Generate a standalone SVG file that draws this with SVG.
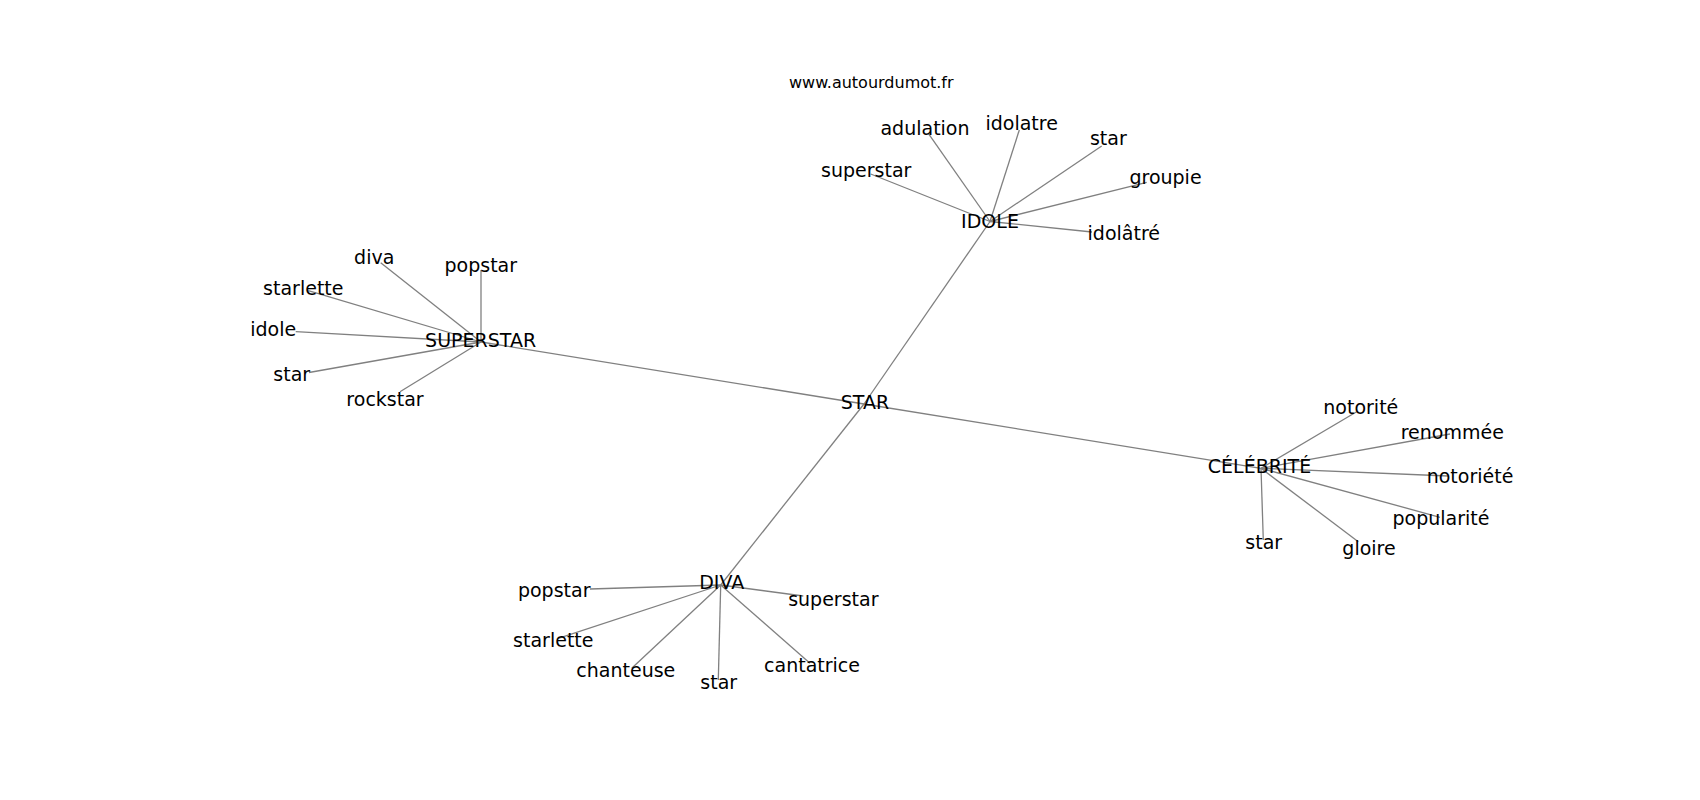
<svg xmlns="http://www.w3.org/2000/svg" width="1700" height="800" viewBox="0 0 1700 800">
<style>
.e{stroke:#808080;stroke-width:1.3;fill:none}
text{font-family:"DejaVu Sans","Liberation Sans",sans-serif;font-size:19px;fill:#000;text-anchor:middle}
.w{font-size:16px}
</style>
<rect width="1700" height="800" fill="#fff"/>
<g id="connectors">
<line class="e" x1="864" y1="404" x2="481" y2="342"/>
<line class="e" x1="864" y1="404" x2="990" y2="221.5"/>
<line class="e" x1="864" y1="404" x2="1261" y2="468.3"/>
<line class="e" x1="864" y1="404" x2="720.7" y2="585"/>
<line class="e" x1="481" y1="342" x2="380.7" y2="262.7"/>
<line class="e" x1="481" y1="342" x2="481" y2="270"/>
<line class="e" x1="481" y1="342" x2="308.3" y2="290.7"/>
<line class="e" x1="481" y1="342" x2="295.7" y2="331.7"/>
<line class="e" x1="481" y1="342" x2="309" y2="372.5"/>
<line class="e" x1="481" y1="342" x2="400" y2="391.7"/>
<line class="e" x1="990" y1="221.5" x2="870.7" y2="174"/>
<line class="e" x1="990" y1="221.5" x2="928.3" y2="133.3"/>
<line class="e" x1="990" y1="221.5" x2="1019.3" y2="130"/>
<line class="e" x1="990" y1="221.5" x2="1101.7" y2="146"/>
<line class="e" x1="990" y1="221.5" x2="1146.7" y2="182.3"/>
<line class="e" x1="990" y1="221.5" x2="1092" y2="232"/>
<line class="e" x1="1261" y1="468.3" x2="1356.7" y2="411.7"/>
<line class="e" x1="1261" y1="468.3" x2="1450" y2="434"/>
<line class="e" x1="1261" y1="468.3" x2="1448.3" y2="476"/>
<line class="e" x1="1261" y1="468.3" x2="1440" y2="517.3"/>
<line class="e" x1="1261" y1="468.3" x2="1263.3" y2="540"/>
<line class="e" x1="1261" y1="468.3" x2="1358.3" y2="541.7"/>
<line class="e" x1="720.7" y1="585" x2="590" y2="589"/>
<line class="e" x1="720.7" y1="585" x2="803.3" y2="596"/>
<line class="e" x1="720.7" y1="585" x2="558.3" y2="638.3"/>
<line class="e" x1="720.7" y1="585" x2="631.7" y2="668.3"/>
<line class="e" x1="720.7" y1="585" x2="718.3" y2="680"/>
<line class="e" x1="720.7" y1="585" x2="810" y2="663.3"/>
</g>
<text class="w" x="871.3" y="88.3">www.autourdumot.fr</text>
<g id="n-star"><text x="865" y="409.3">STAR</text></g>
<g id="n-superstar"><text x="480.6" y="346.7">SUPERSTAR</text></g>
<g id="n-idole"><text x="990" y="228.3">IDOLE</text></g>
<g id="n-diva"><text x="721.7" y="589.3">DIVA</text></g>
<g id="n-celebrite"><text x="1259.5" y="473.3">CÉLÉBRITÉ</text></g>
<g id="n-ss-diva"><text x="374.2" y="264">diva</text></g>
<g id="n-ss-popstar"><text x="480.8" y="271.7">popstar</text></g>
<g id="n-ss-starlette"><text x="303.3" y="295.3">starlette</text></g>
<g id="n-ss-idole"><text x="273.2" y="335.8">idole</text></g>
<g id="n-ss-star"><text x="291.7" y="381.3">star</text></g>
<g id="n-ss-rockstar"><text x="385" y="406">rockstar</text></g>
<g id="n-id-superstar"><text x="866.2" y="177.3">superstar</text></g>
<g id="n-id-adulation"><text x="925" y="135">adulation</text></g>
<g id="n-id-idolatre"><text x="1021.7" y="130">idolatre</text></g>
<g id="n-id-star"><text x="1108.3" y="145">star</text></g>
<g id="n-id-groupie"><text x="1165.5" y="184.3">groupie</text></g>
<g id="n-id-idolatre2"><text x="1123.8" y="240">idolâtré</text></g>
<g id="n-ce-notorite"><text x="1360.8" y="414">notorité</text></g>
<g id="n-ce-renommee"><text x="1452.3" y="439.3">renommée</text></g>
<g id="n-ce-notoriete"><text x="1470" y="483.3">notoriété</text></g>
<g id="n-ce-popularite"><text x="1441" y="525">popularité</text></g>
<g id="n-ce-star"><text x="1263.7" y="549">star</text></g>
<g id="n-ce-gloire"><text x="1369" y="555">gloire</text></g>
<g id="n-dv-popstar"><text x="554.2" y="596.7">popstar</text></g>
<g id="n-dv-superstar"><text x="833.3" y="606">superstar</text></g>
<g id="n-dv-starlette"><text x="553.3" y="646.7">starlette</text></g>
<g id="n-dv-chanteuse"><text x="625.8" y="677.3">chanteuse</text></g>
<g id="n-dv-star"><text x="718.7" y="689.3">star</text></g>
<g id="n-dv-cantatrice"><text x="812" y="671.7">cantatrice</text></g>
</svg>
